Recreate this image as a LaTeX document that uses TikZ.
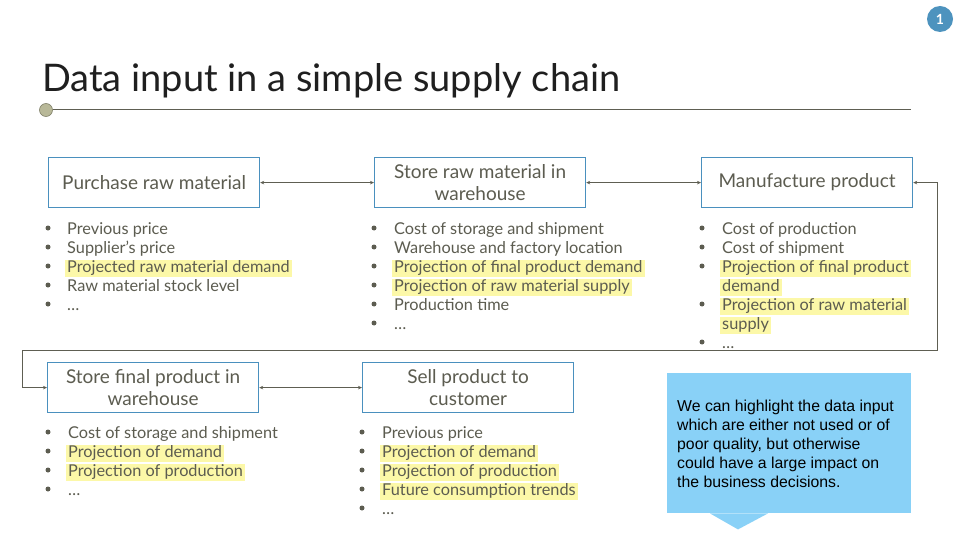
\documentclass[tikz,border=0pt]{standalone}
\usepackage{fontspec}
\setmainfont{Lato}
\newfontfamily\notefont{Liberation Sans}
\usetikzlibrary{arrows.meta}

\definecolor{boxblue}{HTML}{4A90BE}
\definecolor{inktext}{HTML}{5C5C50}
\definecolor{linkgray}{HTML}{5E5E52}
\definecolor{hlyellow}{HTML}{FCF8A8}
\definecolor{noteblue}{HTML}{89D1F7}
\definecolor{badgeblue}{HTML}{4D93BE}
\definecolor{dotolive}{HTML}{B8B898}

\tikzset{
  stepbox/.style={draw=boxblue, line width=1.2pt, minimum width=211pt,
    minimum height=50pt, anchor=north west, align=center, inner sep=0pt,
    text=inktext, font=\fontsize{19}{22}\selectfont},
  item/.style={anchor=west, text=inktext, inner xsep=2.5pt, inner ysep=0.5pt,
    text height=12pt, text depth=4pt, font=\fontsize{16.3}{19}\selectfont},
  hl/.style={item, fill=hlyellow},
  dot/.style={circle, fill=inktext, inner sep=0pt, minimum size=5pt},
  link/.style={draw=linkgray, line width=0.9pt,
    {Stealth[length=4pt,width=3.5pt]}-{Stealth[length=4pt,width=3.5pt]}},
}

\begin{document}
\begin{tikzpicture}[x=1pt, y=-1pt]
\useasboundingbox (0,0) rectangle (960,540);
\fill[white] (0,0) rectangle (960,540);

% page badge
\node[circle, fill=badgeblue, minimum size=26pt, inner sep=0pt, text=white,
  font=\fontsize{14}{14}\selectfont\bfseries] (badge) at (940,19) {1};

% title and rule
\node[anchor=base west, inner sep=0pt, text=black!88,
  font=\fontsize{38}{42}\selectfont] (title) at (42,92) {Data input in a simple supply chain};
\coordinate (ruleend) at (911,110);
\node[circle, fill=dotolive, draw=dotolive!70!black, line width=0.6pt,
  minimum size=13pt, inner sep=0pt] (ruledot) at (46,110) {};
\draw[linkgray, line width=1pt] (ruledot.east) -- (ruleend);

% process steps
\node[stepbox] (purchase) at (48,157) {Purchase raw material};
\node[stepbox] (storeraw) at (374,157) {Store raw material in\\warehouse};
\node[stepbox, text height=14pt] (make) at (701,157) {Manufacture product};
\node[stepbox] (storefinal) at (47,362) {Store final product in\\warehouse};
\node[stepbox] (sell) at (362,362) {Sell product to\\customer};

% connectors
\draw[link] (purchase.east) -- (storeraw.west);
\draw[link] (storeraw.east) -- (make.west);
\coordinate (rturn) at (937,350);
\coordinate (lturn) at (22,350);
\draw[link] (make.east) -| (rturn) -- (lturn) |- (storefinal.west);
\draw[link] (storefinal.east) -- (sell.west);

% data inputs: purchase
\foreach \t/\s [count=\i] in {Previous price/item, Supplier’s price/item,
    Projected raw material demand/hl, Raw material stock level/item, …/item} {
  \node[dot] (pa-b\i) at (48,209+19*\i) {};
  \node[\s] (pa-t\i) at (64.5,211+19*\i) {\t};
}

% data inputs: raw material storage
\foreach \t/\s [count=\i] in {Cost of storage and shipment/item,
    Warehouse and factory location/item,
    Projection of final product demand/hl,
    Projection of raw material supply\hspace{5pt}/hl,
    Production time/item, …/item} {
  \node[dot] (sr-b\i) at (374,209+19*\i) {};
  \node[\s] (sr-t\i) at (391.5,211+19*\i) {\t};
}

% data inputs: manufacturing
\node[dot] (mk-b1) at (702,228) {};
\node[item] (mk-t1) at (719.5,230) {Cost of production};
\node[dot] (mk-b2) at (702,247) {};
\node[item] (mk-t2) at (719.5,249) {Cost of shipment};
\node[dot] (mk-b3) at (702,266) {};
\node[hl] (mk-t3) at (719.5,268) {Projection of final product\hspace{4pt}};
\node[hl] (mk-t3b) at (719.5,287) {demand\hspace{2pt}};
\node[dot] (mk-b4) at (702,304) {};
\node[hl] (mk-t4) at (719.5,306) {Projection of raw material\hspace{4pt}};
\node[hl] (mk-t4b) at (719.5,325) {supply\hspace{2pt}};
\node[dot] (mk-b5) at (702,342) {};
\node[item] (mk-t5) at (719.5,344) {…};

% data inputs: final product storage
\foreach \t/\s [count=\i] in {Cost of storage and shipment/item,
    Projection of demand\hspace{3pt}/hl, Projection of production\hspace{2pt}/hl, …/item} {
  \node[dot] (sf-b\i) at (48,413+19*\i) {};
  \node[\s] (sf-t\i) at (65.5,415+19*\i) {\t};
}

% data inputs: sales
\foreach \t/\s [count=\i] in {Previous price/item,
    Projection of demand\hspace{3pt}/hl, Projection of production\hspace{3pt}/hl,
    Future consumption trends/hl, …/item} {
  \node[dot] (se-b\i) at (362,413+19*\i) {};
  \node[\s] (se-t\i) at (379.5,415+19*\i) {\t};
}

% note callout
\node[anchor=north west, fill=noteblue, minimum width=244pt, minimum height=140pt,
  inner sep=0pt] (note) at (667,373) {};
\fill[noteblue] ([xshift=43pt]note.south west) -- ([xshift=101pt]note.south west)
  -- ([xshift=71pt,yshift=-16pt]note.south west) -- cycle;
\node[anchor=base west, align=left, inner sep=0pt, text=black,
  font=\notefont\fontsize{15.8}{19}\selectfont] (notetext) at (677,487)
  {We can highlight the data input\\which are either not used or of\\poor quality, but otherwise\\could have a large impact on\\the business decisions.};
\end{tikzpicture}
\end{document}
